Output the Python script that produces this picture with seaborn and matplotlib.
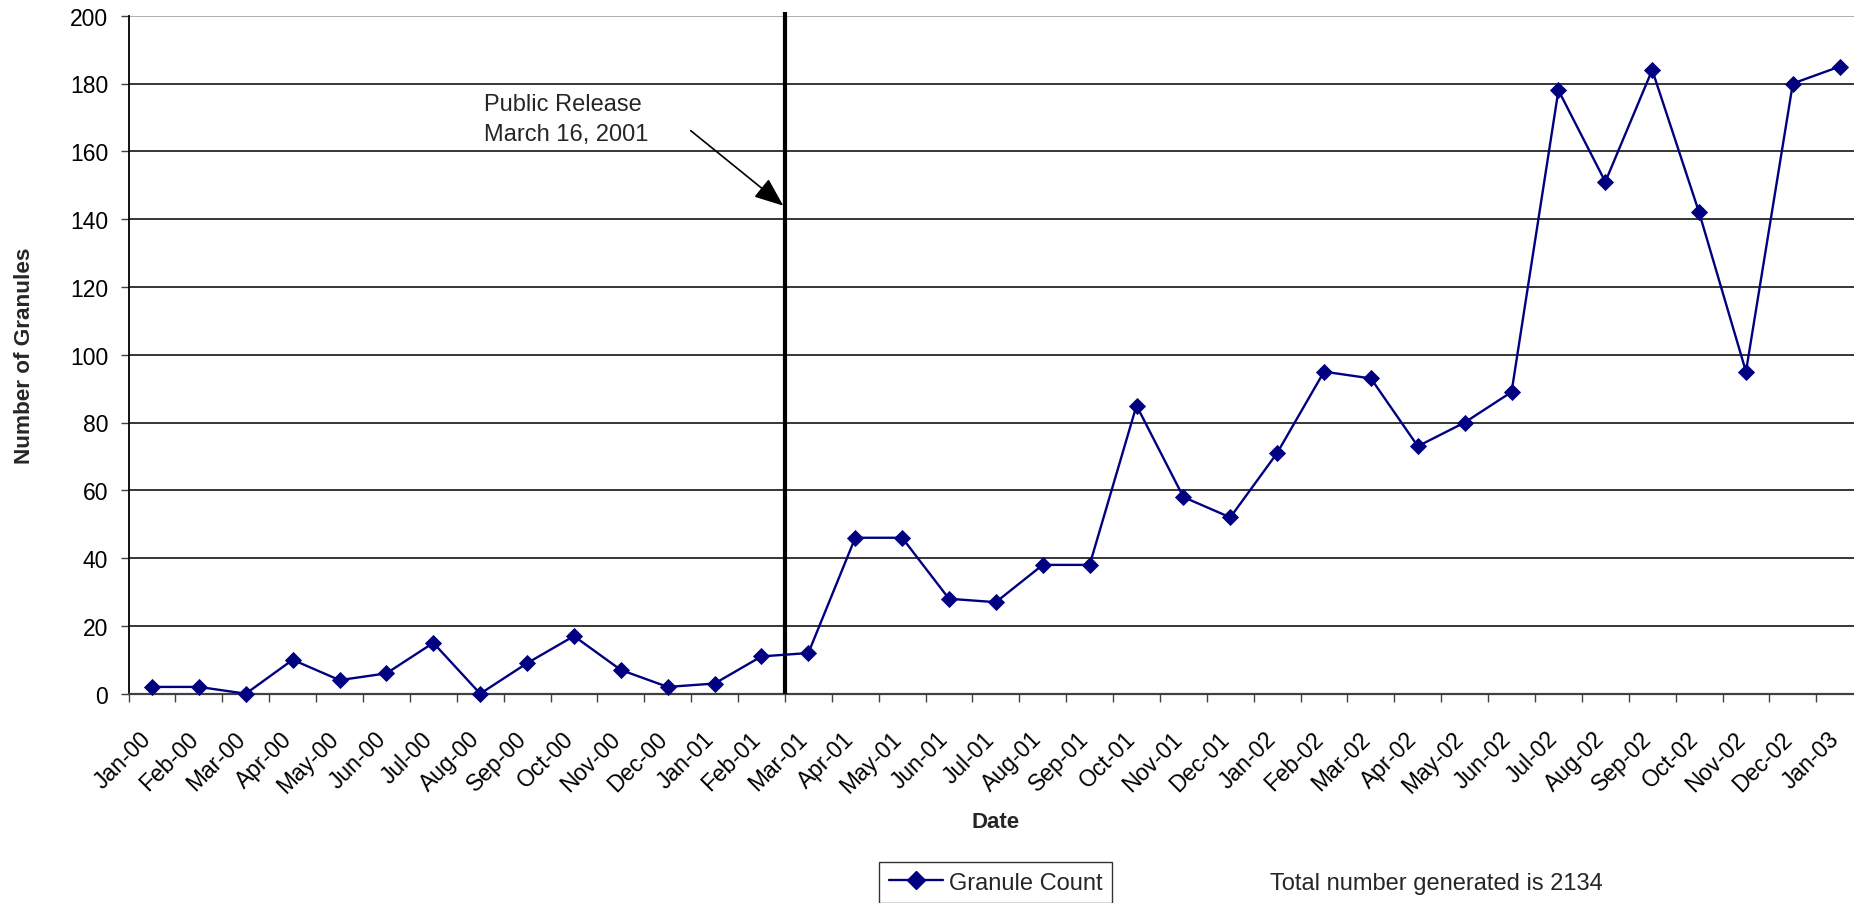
import matplotlib
matplotlib.use("Agg")
import matplotlib.pyplot as plt
import seaborn as sns
import pandas as pd
import numpy as np
from matplotlib.lines import Line2D
from matplotlib.transforms import ScaledTranslation

# ---------------- data ----------------
months = ["Jan-00", "Feb-00", "Mar-00", "Apr-00", "May-00", "Jun-00", "Jul-00",
          "Aug-00", "Sep-00", "Oct-00", "Nov-00", "Dec-00", "Jan-01", "Feb-01",
          "Mar-01", "Apr-01", "May-01", "Jun-01", "Jul-01", "Aug-01", "Sep-01",
          "Oct-01", "Nov-01", "Dec-01", "Jan-02", "Feb-02", "Mar-02", "Apr-02",
          "May-02", "Jun-02", "Jul-02", "Aug-02", "Sep-02", "Oct-02", "Nov-02",
          "Dec-02", "Jan-03"]
granule_counts = [2, 2, 0, 10, 4, 6, 15, 0, 9, 17, 7, 2, 3, 11,
                  12, 46, 46, 28, 27, 38, 38, 85, 58, 52, 71, 95, 93, 73,
                  80, 89, 178, 151, 184, 142, 95, 180, 185]
y_ticks = [0, 20, 40, 60, 80, 100, 120, 140, 160, 180, 200]
series_name = "Granule Count"
release_position = 13.5          # boundary between Feb-01 and Mar-01
release_line_top = 201
annotation_lines = ["Public Release", "March 16, 2001"]
annotation_text_xy = (7.09, 172.2)
annotation_line2_y = 163.2
arrow_tail = (11.49, 166.1)
arrow_head = (13.466, 143.95)

df = pd.DataFrame({"position": np.arange(len(months)),
                   "month": months,
                   "count": granule_counts})

# ---------------- style ----------------
sns.set_style("white")
plt.rcParams["font.family"] = ["Liberation Sans", "DejaVu Sans"]

W, H = 1854, 904
navy = "#000080"
fig = plt.figure(figsize=(W / 100, H / 100), dpi=100)
px_per_cat = 46.88
ax = fig.add_axes([128.6 / W, (H - 694.7) / H, 37 * px_per_cat / W, 678 / H])

sns.lineplot(data=df, x="position", y="count", ax=ax, color=navy,
             linewidth=1.7, marker="D", markersize=8.5,
             markeredgecolor=navy, markeredgewidth=0.6,
             legend=False, zorder=5, clip_on=False)

ax.set_xlim(-0.5, len(months) - 0.5)
ax.set_ylim(0, 200)

# y axis
ax.set_yticks(y_ticks)
ax.tick_params(axis="y", left=True, length=5.8, width=1.0, color="#404040",
               pad=8.9, labelsize=16.5, labelcolor="black")

# x axis: category labels at centres, tick marks between categories
ax.set_xticks(df["position"].to_numpy(), labels=months)
ax.set_xticks(np.arange(-0.5, len(months), 1.0), minor=True)
ax.tick_params(axis="x", which="major", bottom=True, length=0, pad=23.8,
               labelsize=16.5, labelcolor="black")
ax.tick_params(axis="x", which="minor", bottom=True, length=5.8, width=1.0,
               color="#404040", direction="out")
shift = ScaledTranslation(-12.5 / 100, 0, fig.dpi_scale_trans)
for lab in ax.get_xticklabels():
    lab.set_rotation(45)
    lab.set_rotation_mode("anchor")
    lab.set_ha("right")
    lab.set_va("top")
    lab.set_transform(lab.get_transform() + shift)

# grid & spines
ax.yaxis.grid(True, color="black", linewidth=1.1)
ax.xaxis.grid(False)
ax.set_axisbelow(True)
ax.get_ygridlines()[-1].set_color("#999999")
ax.spines["top"].set_visible(False)
ax.spines["right"].set_visible(False)
ax.spines["left"].set_color("black")
ax.spines["left"].set_linewidth(1.3)
ax.spines["bottom"].set_color("#404040")
ax.spines["bottom"].set_linewidth(1.6)

# axis labels
ax.set_xlabel("Date", fontsize=16, fontweight="bold")
ax.xaxis.set_label_coords(0.5, -0.1726)
ax.set_ylabel("Number of Granules", fontsize=16.2, fontweight="bold")
ax.yaxis.label.set_va("center")
ax.yaxis.set_label_coords(-0.0600, 0.5)

# release marker line + annotation
ax.vlines(release_position, 0, release_line_top, color="black",
          linewidth=3.0, clip_on=False, zorder=4)
ax.text(annotation_text_xy[0], annotation_text_xy[1], annotation_lines[0],
        fontsize=17, ha="left", va="baseline")
ax.text(annotation_text_xy[0], annotation_line2_y, annotation_lines[1],
        fontsize=17, ha="left", va="baseline")
ax.annotate("", xy=arrow_head, xytext=arrow_tail,
            arrowprops=dict(arrowstyle="-|>,head_length=0.6,head_width=0.24",
                            mutation_scale=30, color="black", lw=1.2,
                            shrinkA=0, shrinkB=0))

# legend
handle = Line2D([], [], color=navy, linewidth=1.7, marker="D",
                markersize=9.0, markeredgecolor=navy)
leg = ax.legend(handles=[handle], labels=[series_name], loc="upper left",
                bbox_to_anchor=(879.3 / W, 1 - 863.3 / H),
                bbox_transform=fig.transFigure, frameon=True, fancybox=False,
                edgecolor="#333333", framealpha=1, fontsize=17,
                handlelength=2.3, handletextpad=0.25, borderpad=0.4,
                borderaxespad=0)
leg.get_frame().set_linewidth(1.0)

fig.text(1270 / W, 1 - 890 / H,
         f"Total number generated is {sum(granule_counts)}",
         fontsize=17, ha="left", va="baseline")

fig.savefig("out.png", dpi=100)
